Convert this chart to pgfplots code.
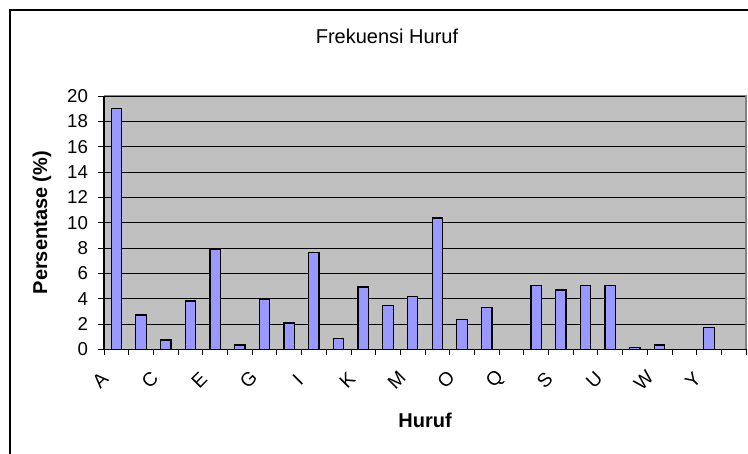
\documentclass[border=0pt]{standalone}
\usepackage{fontspec}
\setmainfont{Liberation Sans}
\usepackage{pgfplots}
\usepackage{pgfplotstable}
\pgfplotsset{compat=1.18}
\definecolor{plotbg}{HTML}{C0C0C0}
\definecolor{barfill}{HTML}{9999FF}
\definecolor{framegray}{HTML}{808080}

\pgfplotstableread{
x y
0 19.0
1 2.70
2 0.74
3 3.82
4 7.89
5 0.34
6 3.95
7 2.08
8 7.63
9 0.87
10 4.92
11 3.45
12 4.16
13 10.37
14 2.34
15 3.32
16 0
17 5.03
18 4.68
19 5.03
20 5.03
21 0.13
22 0.34
23 0
24 1.71
25 0
}\datatable

\begin{document}
\begin{tikzpicture}
\path[use as bounding box] (0,0) rectangle (561pt,339.75pt);
\draw[line width=1.5pt] (7.5pt,-5pt) -- (7.5pt,332.25pt) -- (575pt,332.25pt);
\node[font=\fontsize{15}{18}\selectfont] at (290.25pt,312.75pt) {Frekuensi Huruf};
\begin{axis}[
  at={(78pt,77.8pt)}, anchor=south west,
  scale only axis, width=481.5pt, height=190pt,
  xmin=-0.5, xmax=25.5, ymin=0, ymax=20,
  ybar, bar width=0.42,
  axis background/.style={fill=plotbg},
  axis line style={draw=none},
  xtick pos=bottom, ytick pos=left,
  xtick={-0.5,0.5,...,25.5}, xticklabels={},
  extra x ticks={0,2,...,24},
  extra x tick labels={A,C,E,G,I,K,M,O,Q,S,U,W,Y},
  extra x tick style={major tick length=0pt},
  xticklabel style={xshift=-12pt, yshift=-23pt, rotate=45, anchor=center, font=\fontsize{14.5}{16}\selectfont},
  ytick={0,2,...,20},
  yticklabel style={xshift=-4pt, font=\fontsize{14}{16}\selectfont},
  /pgf/number format/assume math mode=true,
  ymajorgrids, grid style={black, line width=0.6pt},
  tick align=outside, major tick length=4.5pt,
  tick style={black, line width=0.6pt},
  xlabel={Huruf}, ylabel={Persentase (\%)},
  every axis x label/.style={at={(axis description cs:0.5,0)}, yshift=-53pt, anchor=center, font=\bfseries\fontsize{15}{18}\selectfont},
  every axis y label/.style={at={(axis description cs:0,0.5)}, xshift=-46.5pt, rotate=90, anchor=center, font=\bfseries\fontsize{15}{18}\selectfont},
  clip=false,
]
\addplot[fill=barfill, draw=black, line width=0.95pt] table[x=x, y=y] {\datatable};
\draw[framegray, line width=0.8pt] (rel axis cs:0,1) -- (rel axis cs:1,1) -- (rel axis cs:1,0);
\draw[black, line width=0.8pt] (rel axis cs:0,1) -- (rel axis cs:0,0) -- (rel axis cs:1,0);
\end{axis}
\end{tikzpicture}
\end{document}
